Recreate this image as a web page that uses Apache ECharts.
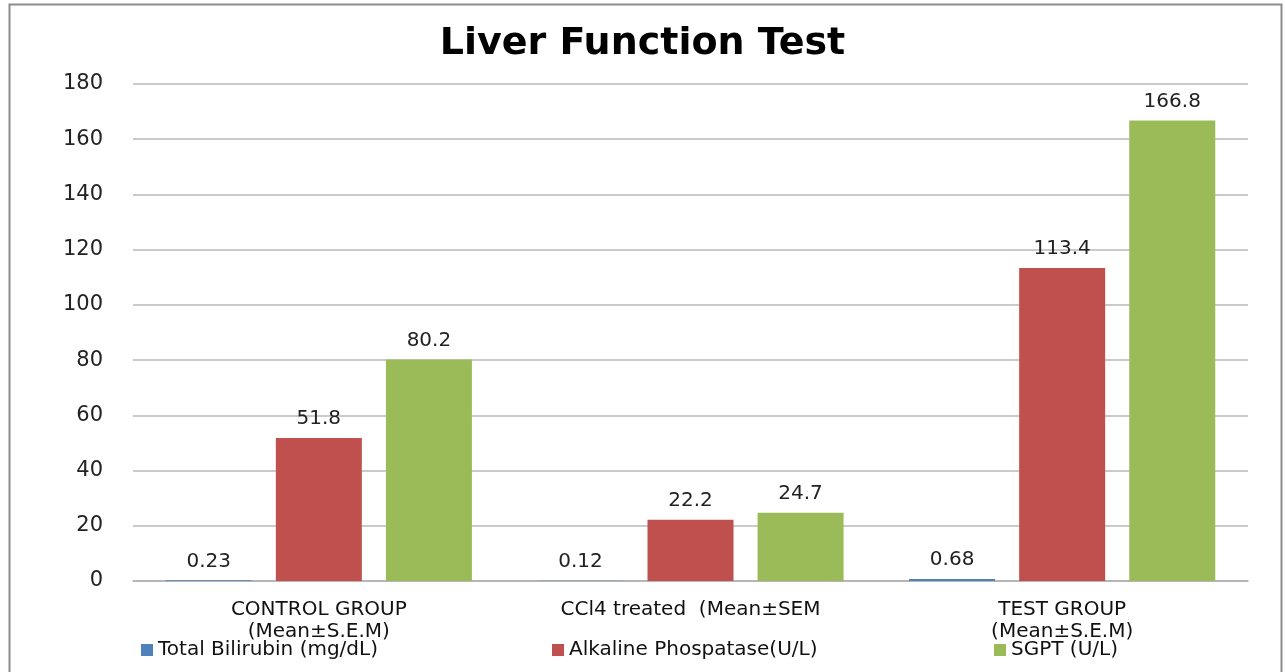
<!DOCTYPE html>
<html>
<head>
<meta charset="utf-8">
<script src="https://cdn.jsdelivr.net/npm/echarts@6/dist/echarts.min.js"></script>
<style>
  html, body { margin: 0; padding: 0; background: #fff; }
  #chart { width: 1285px; height: 672px; }
</style>
</head>
<body>
<div id="chart"></div>
<script>
const categories = ['CONTROL GROUP\n(Mean±S.E.M)', 'CCl4 treated  (Mean±SEM', 'TEST GROUP\n(Mean±S.E.M)']
const bilirubin = [0.23, 0.12, 0.68]
const alkaline = [51.8, 22.2, 113.4]
const sgpt = [80.2, 24.7, 166.8]
const seriesNames = ['Total Bilirubin (mg/dL)', 'Alkaline Phospatase(U/L)', 'SGPT (U/L)']
const colors = ['#4f81bd', '#c0504d', '#9bbb59']

const myChart = echarts.init(document.getElementById('chart'))

// shared style for the bar series
const makeSeries = (name, data, color) => ({
  name: name,
  type: 'bar',
  data: data,
  barWidth: 86,
  barGap: '28%',
  itemStyle: { color: color },
  label: {
    show: true,
    position: 'top',
    distance: 9,
    color: '#222',
    fontFamily: 'DejaVu Sans',
    fontSize: 20
  }
})

// one legend per series so each entry sits where the original has it
const legendLefts = [136, 547, 989]
const legends = seriesNames.map((name, i) => ({
  bottom: 10,
  left: legendLefts[i],
  itemWidth: 12,
  itemHeight: 12,
  padding: [2, 5],
  icon: 'rect',
  textStyle: {
    fontFamily: 'DejaVu Sans',
    fontSize: 20,
    color: '#111'
  },
  data: [name]
}))

myChart.setOption({
  animation: false,
  title: {
    text: 'Liver Function Test',
    left: 'center',
    top: 20,
    textStyle: {
      fontFamily: 'DejaVu Sans',
      fontWeight: 'bold',
      fontSize: 38,
      color: '#000'
    }
  },
  graphic: [{
    type: 'rect',
    shape: { x: 9.5, y: 4.5, width: 1272, height: 700 },
    style: { fill: 'none', stroke: '#8c8c8c', lineWidth: 2 },
    silent: true
  }],
  legend: legends,
  grid: {
    left: 133,
    right: 37,
    top: 84,
    bottom: 91
  },
  xAxis: {
    type: 'category',
    data: categories,
    axisTick: { show: false },
    axisLine: { lineStyle: { color: '#b0b0b0', width: 1.5 } },
    axisLabel: {
      color: '#111',
      fontFamily: 'DejaVu Sans',
      fontSize: 20,
      lineHeight: 22,
      margin: 18,
      interval: 0
    }
  },
  yAxis: {
    type: 'value',
    min: 0,
    max: 180,
    interval: 20,
    axisLine: { show: false },
    axisTick: { show: false },
    axisLabel: {
      color: '#222',
      fontFamily: 'DejaVu Sans',
      fontSize: 21,
      margin: 30
    },
    splitLine: { lineStyle: { color: '#b8b8b8', width: 1.5 } }
  },
  series: [
    makeSeries(seriesNames[0], bilirubin, colors[0]),
    makeSeries(seriesNames[1], alkaline, colors[1]),
    makeSeries(seriesNames[2], sgpt, colors[2])
  ]
})
</script>
</body>
</html>
